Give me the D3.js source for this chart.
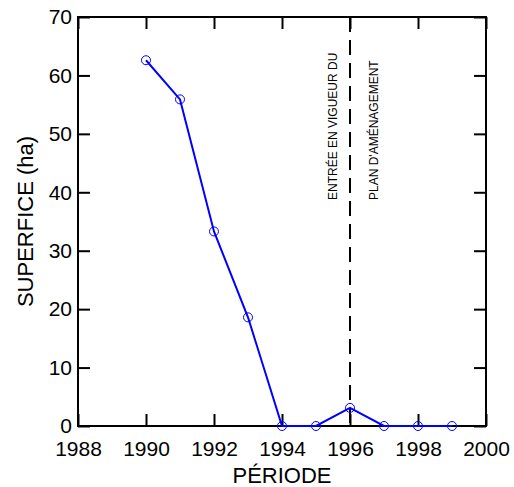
<!DOCTYPE html>
<html>
<head>
<meta charset="utf-8">
<script src="https://cdn.jsdelivr.net/npm/d3@7"></script>
<style>
  body { margin: 0; background: #fff; }
  text { font-family: "Liberation Sans", Arial, sans-serif; }
</style>
</head>
<body>
<div id="chart"></div>
<script>
// data
var years = [1990, 1991, 1992, 1993, 1994, 1995, 1996, 1997, 1998, 1999];
var surface = [62.6, 55.9, 33.3, 18.6, 0, 0, 3.1, 0, 0, 0];
var xTicks = [1988, 1990, 1992, 1994, 1996, 1998, 2000];
var yTicks = [0, 10, 20, 30, 40, 50, 60, 70];
var markYear = 1996;
var noteLines = ["ENTRÉE EN VIGUEUR DU", "PLAN D'AMÉNAGEMENT"];

var svgWidth = 514, svgHeight = 487;
var margin = {top: 17, right: 28, bottom: 61, left: 78};
var width = svgWidth - margin.left - margin.right;
var height = svgHeight - margin.top - margin.bottom;

var svg = d3.select('#chart').append('svg')
    .attr('width', svgWidth).attr('height', svgHeight);

var g = svg.append('g')
    .attr('transform', 'translate(' + margin.left + ',' + margin.top + ')');

var x = d3.scaleLinear().domain([1988, 2000]).range([0, width]);
var y = d3.scaleLinear().domain([0, 70]).range([height, 0]);

// axes, ticks pointing inward on all four sides
function styleAxis(sel) {
    sel.select('.domain').remove();
    sel.selectAll('.tick line').attr('stroke', '#000').attr('stroke-width', 2);
    sel.selectAll('.tick text').attr('fill', '#000').style('font-size', '21px');
}

g.append('g')
    .attr('transform', 'translate(0,' + height + ')')
    .call(d3.axisBottom(x).tickValues(xTicks).tickFormat(d3.format('d'))
        .tickSizeInner(-12).tickPadding(15))
    .call(styleAxis);

g.append('g')
    .call(d3.axisTop(x).tickValues(xTicks).tickFormat('').tickSizeInner(-12))
    .call(styleAxis);

g.append('g')
    .call(d3.axisLeft(y).tickValues(yTicks).tickSizeInner(-12).tickPadding(6))
    .call(styleAxis);

g.append('g')
    .attr('transform', 'translate(' + width + ',0)')
    .call(d3.axisRight(y).tickValues(yTicks).tickFormat('').tickSizeInner(-12))
    .call(styleAxis);

// frame
g.append('rect')
    .attr('width', width).attr('height', height)
    .attr('fill', 'none').attr('stroke', '#000').attr('stroke-width', 2);

// vertical dashed marker
g.append('line')
    .attr('x1', x(markYear)).attr('x2', x(markYear))
    .attr('y1', 0).attr('y2', height)
    .attr('stroke', '#000').attr('stroke-width', 2)
    .attr('stroke-dasharray', '15,8');

// annotation
g.selectAll('.note')
    .data(noteLines)
    .enter().append('text')
    .attr('class', 'note')
    .attr('transform', function(d, i) {
        return 'translate(' + (x(markYear) + (i === 0 ? -13 : 28)) + ',' + 183 + ') rotate(-90)';
    })
    .style('font-size', '12px')
    .attr('fill', '#000')
    .text(function(d) { return d; });

// series
var pts = years.map(function(d, i) { return {year: d, value: surface[i]}; });

var line = d3.line()
    .x(function(d) { return x(d.year); })
    .y(function(d) { return y(d.value); });

g.append('path')
    .datum(pts)
    .attr('d', line)
    .attr('fill', 'none').attr('stroke', '#0000ff').attr('stroke-width', 2);

g.selectAll('.pt')
    .data(pts)
    .enter().append('circle')
    .attr('class', 'pt')
    .attr('cx', function(d) { return x(d.year); })
    .attr('cy', function(d) { return y(d.value); })
    .attr('r', 4.5)
    .attr('fill', 'none').attr('stroke', '#0000ff').attr('stroke-width', 1);

// axis titles
svg.append('text')
    .attr('x', margin.left + width / 2).attr('y', 483)
    .attr('text-anchor', 'middle')
    .style('font-size', '22px')
    .text('PÉRIODE');

svg.append('text')
    .attr('transform', 'translate(33,' + (margin.top + height / 2) + ') rotate(-90)')
    .attr('text-anchor', 'middle')
    .style('font-size', '22px')
    .text('SUPERFICE (ha)');
</script>
</body>
</html>
